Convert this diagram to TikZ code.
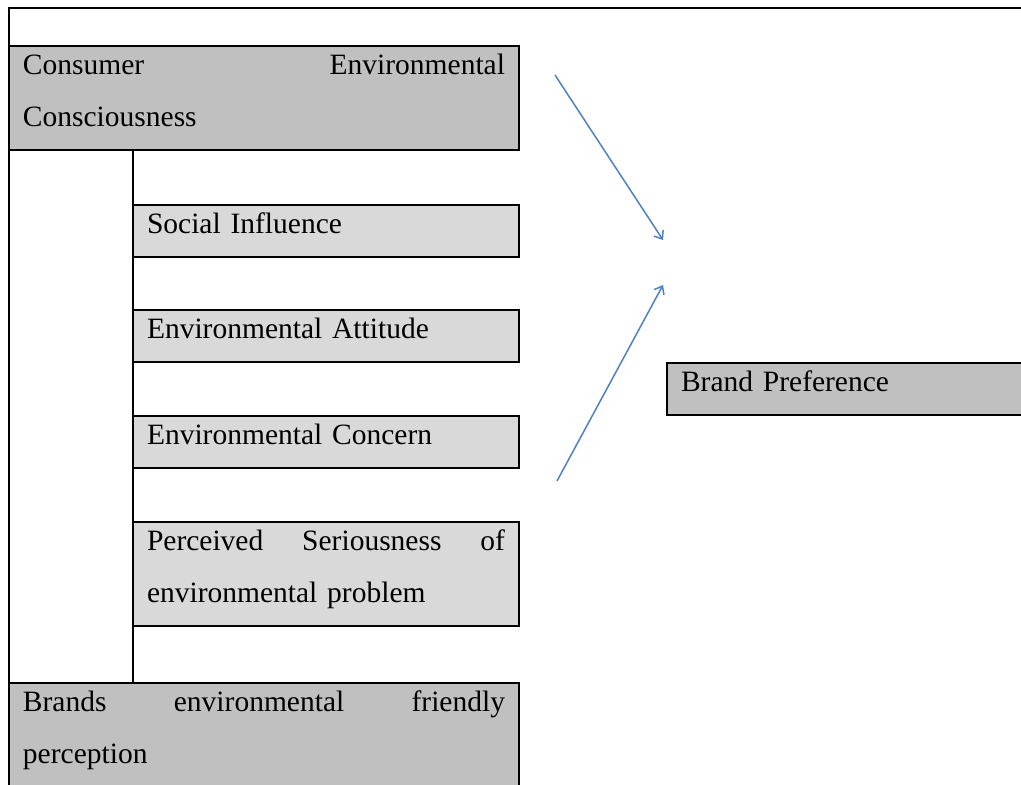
\documentclass[tikz,border=0pt]{standalone}
\usepackage{fontspec}
\setmainfont{Liberation Serif}
\usetikzlibrary{positioning,arrows.meta}

\definecolor{darkgray}{RGB}{192,192,192}
\definecolor{lightgray}{RGB}{217,217,217}
\definecolor{arrowblue}{RGB}{79,129,189}
\newcommand{\rowstrut}{\rule[-23.5pt]{0pt}{52pt}}

\begin{document}
\begin{tikzpicture}[x=1pt, y=-1pt,
			darkbox/.style={rectangle, draw=black, line width=2pt, fill=darkgray, anchor=north west,
				inner sep=0pt, inner xsep=14pt, outer sep=0pt, text width=482pt, align=left,
				font=\fontsize{29.5}{52}\selectfont},
			lightbox/.style={darkbox, fill=lightgray, text width=358pt},
			frame/.style={draw=black, line width=2pt},
			arrow/.style={draw=arrowblue, line width=1.5pt, -{Straight Barb[length=7pt, width=11pt]}}]
			\useasboundingbox (0,0) rectangle (1021,785);
			\coordinate (corner) at (9,8);
			\node[darkbox] (cec) at (9,46) {\rowstrut Consumer\hfill Environmental\\\rowstrut Consciousness};
			\node[lightbox] (si) at (133,205) {\rowstrut Social Influence};
			\node[lightbox, below=53pt of si.south west, anchor=north west] (ea) {\rowstrut Environmental Attitude};
			\node[lightbox, below=54pt of ea.south west, anchor=north west] (ec) {\rowstrut Environmental Concern};
			\node[lightbox, below=54pt of ec.south west, anchor=north west] (ps) {\rowstrut Perceived\hfill Seriousness\hfill of\\\rowstrut environmental problem};
			\node[darkbox] (bef) at (9,683) {\rowstrut Brands\hfill environmental\hfill friendly\\\rowstrut perception};
			\node[darkbox, text width=358pt] (bp) at (667,363) {\rowstrut Brand Preference};
			% table lines
			\draw[frame] (cec.north west) -- (corner) -- ++(1030,0);
			\draw[frame] (cec.south west) -- (bef.north west);
			\draw[frame] (si.west |- cec.south) -- (si.west |- bef.north);
			% arrows
			\coordinate (a1s) at (555,75);
			\coordinate (a1e) at (663,240);
			\coordinate (a2s) at (557,481);
			\coordinate (a2e) at (663,285);
			\draw[arrow] (a1s) -- (a1e);
			\draw[arrow] (a2s) -- (a2e);
		\end{tikzpicture}
\end{document}
